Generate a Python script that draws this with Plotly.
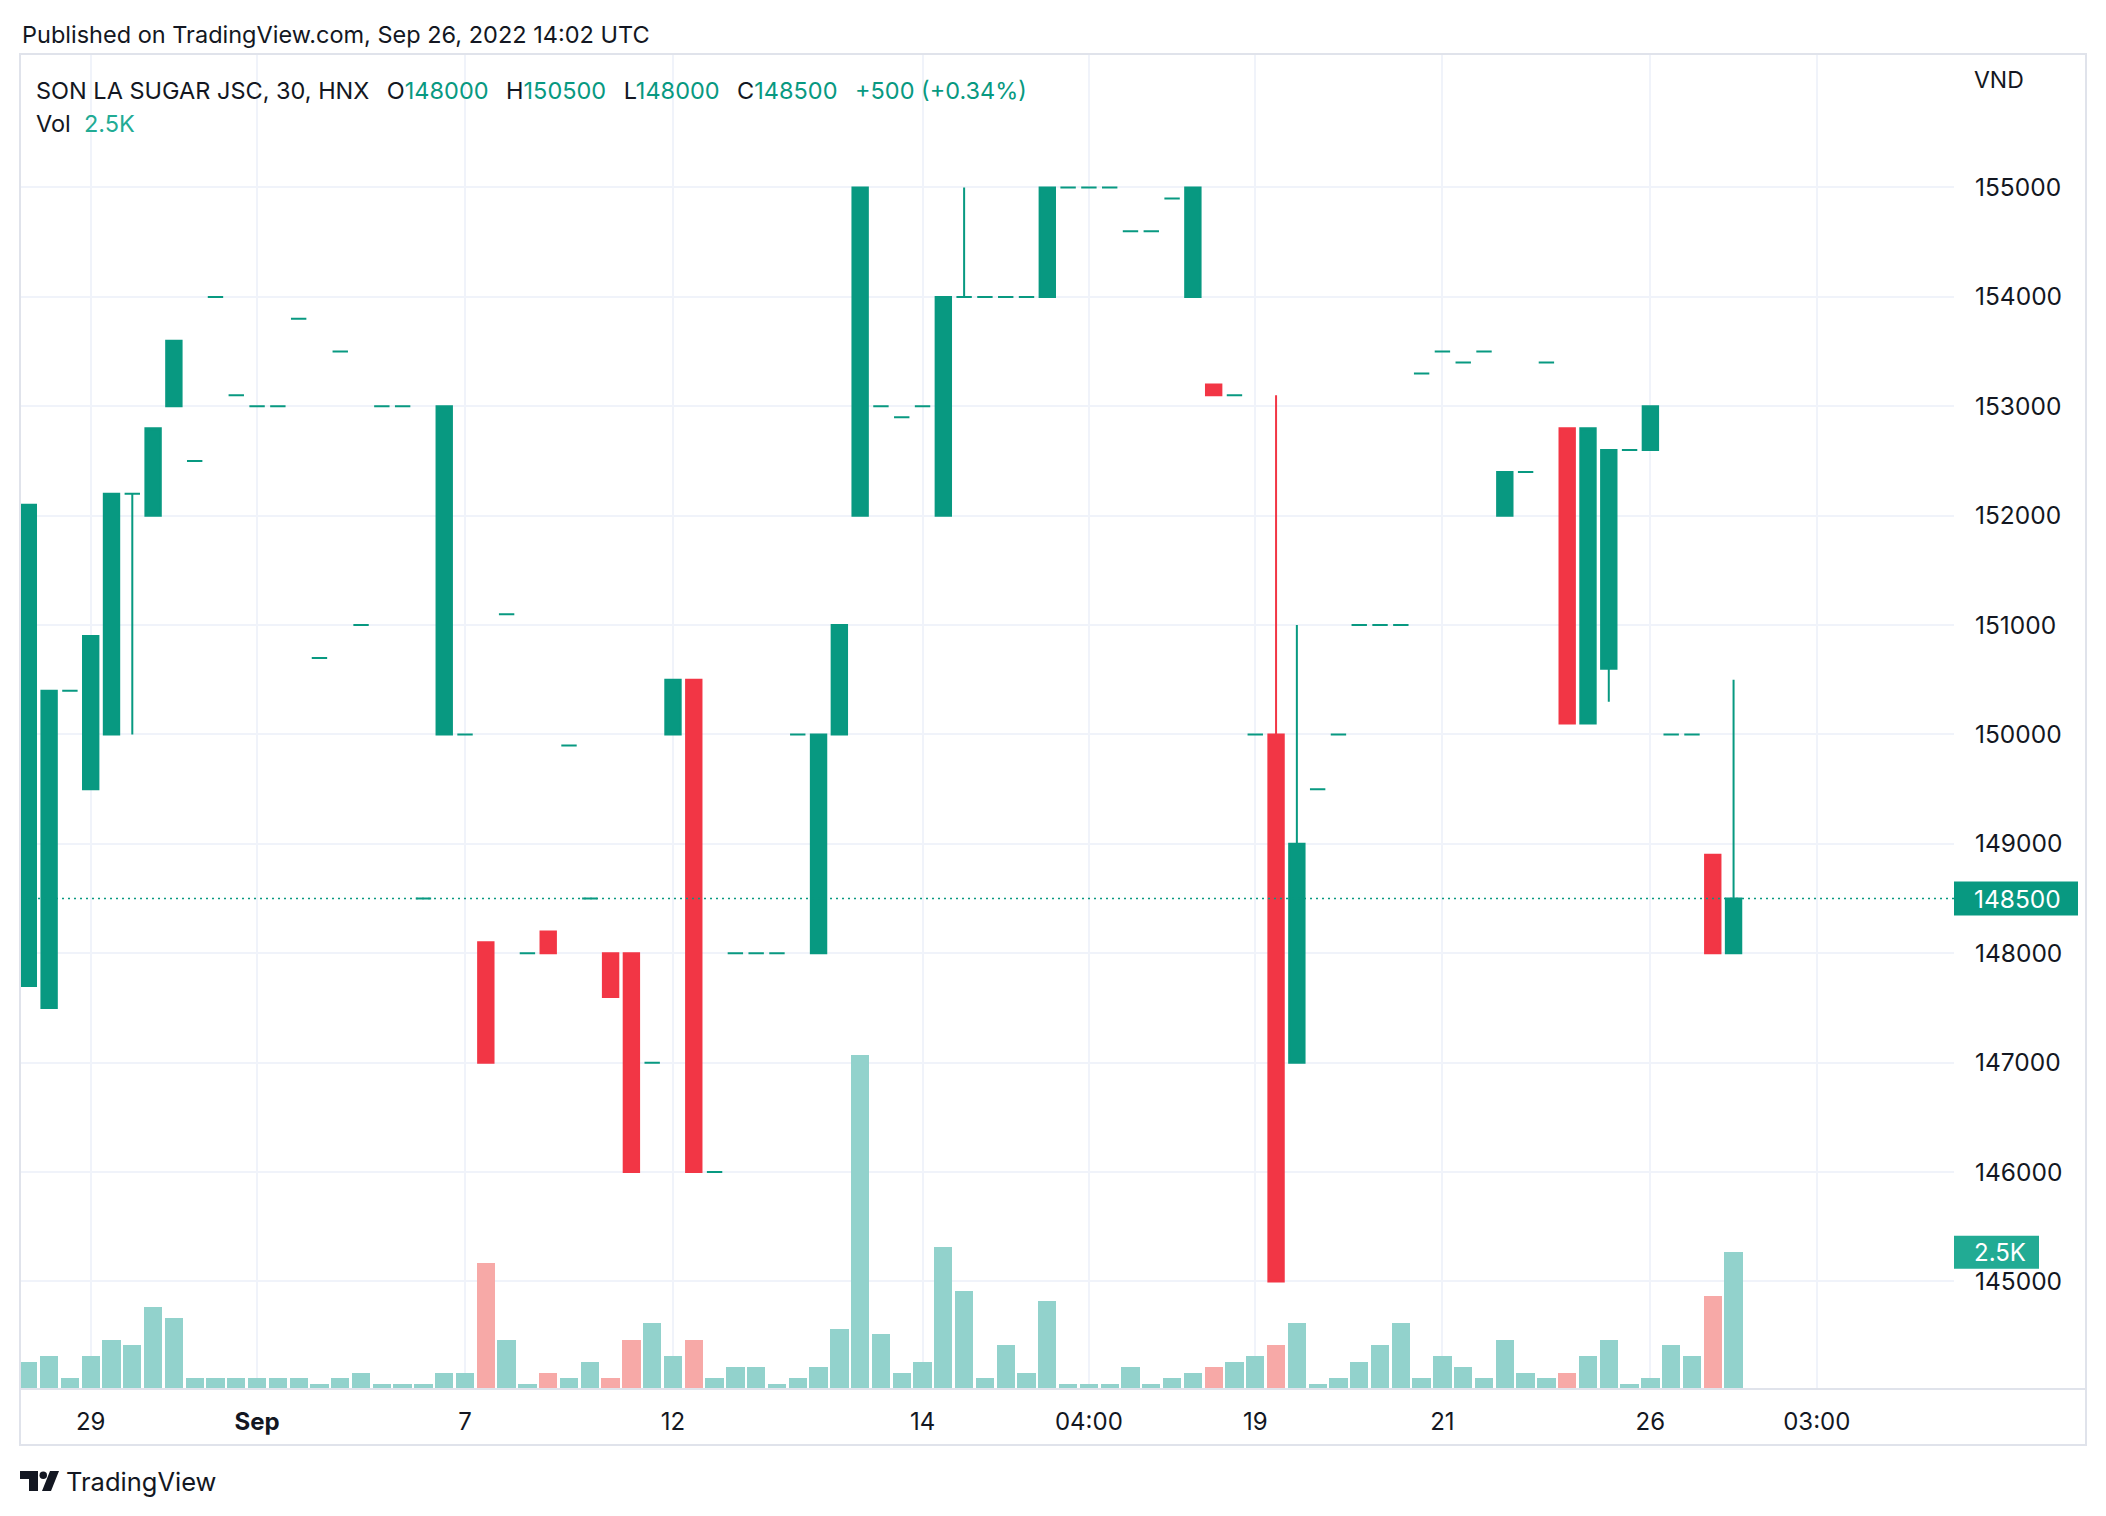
import plotly.graph_objects as go

# ---------------- data (30-min bars, SON LA SUGAR JSC, HNX) ----------------
opens = [147700, 147500, 150400, 149500, 150000, 152200, 152000, 153000, 152500, 154000,
         153100, 153000, 153000, 153800, 150700, 153500, 151000, 153000, 153000, 148500,
         150000, 150000, 148100, 151100, 148000, 148200, 149900, 148500, 148000, 148000,
         147000, 150000, 150500, 146000, 148000, 148000, 148000, 150000, 148000, 150000,
         152000, 153000, 152900, 153000, 152000, 154000, 154000, 154000, 154000, 154000,
         155000, 155000, 155000, 154600, 154600, 154900, 154000, 153200, 153100, 150000,
         150000, 147000, 149500, 150000, 151000, 151000, 151000, 153300, 153500, 153400,
         153500, 152000, 152400, 153400, 152800, 150100, 150600, 152600, 152600, 150000,
         150000, 148900, 148000]
highs = [152100, 150400, 150400, 150900, 152200, 152200, 152800, 153600, 152500, 154000,
         153100, 153000, 153000, 153800, 150700, 153500, 151000, 153000, 153000, 148500,
         153000, 150000, 148100, 151100, 148000, 148200, 149900, 148500, 148000, 148000,
         147000, 150500, 150500, 146000, 148000, 148000, 148000, 150000, 150000, 151000,
         155000, 153000, 152900, 153000, 154000, 155000, 154000, 154000, 154000, 155000,
         155000, 155000, 155000, 154600, 154600, 154900, 155000, 153200, 153100, 150000,
         153100, 151000, 149500, 150000, 151000, 151000, 151000, 153300, 153500, 153400,
         153500, 152400, 152400, 153400, 152800, 152800, 152600, 152600, 153000, 150000,
         150000, 148900, 150500]
lows = [147700, 147500, 150400, 149500, 150000, 150000, 152000, 153000, 152500, 154000,
        153100, 153000, 153000, 153800, 150700, 153500, 151000, 153000, 153000, 148500,
        150000, 150000, 147000, 151100, 148000, 148000, 149900, 148500, 147600, 146000,
        147000, 150000, 146000, 146000, 148000, 148000, 148000, 150000, 148000, 150000,
        152000, 153000, 152900, 153000, 152000, 154000, 154000, 154000, 154000, 154000,
        155000, 155000, 155000, 154600, 154600, 154900, 154000, 153100, 153100, 150000,
        145000, 147000, 149500, 150000, 151000, 151000, 151000, 153300, 153500, 153400,
        153500, 152000, 152400, 153400, 150100, 150100, 150300, 152600, 152600, 150000,
        150000, 148000, 148000]
closes = [152100, 150400, 150400, 150900, 152200, 152200, 152800, 153600, 152500, 154000,
          153100, 153000, 153000, 153800, 150700, 153500, 151000, 153000, 153000, 148500,
          153000, 150000, 147000, 151100, 148000, 148000, 149900, 148500, 147600, 146000,
          147000, 150500, 146000, 146000, 148000, 148000, 148000, 150000, 150000, 151000,
          155000, 153000, 152900, 153000, 154000, 154000, 154000, 154000, 154000, 155000,
          155000, 155000, 155000, 154600, 154600, 154900, 155000, 153100, 153100, 150000,
          145000, 149000, 149500, 150000, 151000, 151000, 151000, 153300, 153500, 153400,
          153500, 152400, 152400, 153400, 150100, 152800, 152600, 152600, 153000, 150000,
          150000, 148000, 148500]
volumes = [500, 600, 200, 600, 900, 800, 1500, 1300, 200, 200,
           200, 200, 200, 200, 100, 200, 300, 100, 100, 100,
           300, 300, 2300, 900, 100, 300, 200, 500, 200, 900,
           1200, 600, 900, 200, 400, 400, 100, 200, 400, 1100,
           6100, 1000, 300, 500, 2600, 1800, 200, 800, 300, 1600,
           100, 100, 100, 400, 100, 200, 300, 400, 500, 600,
           800, 1200, 100, 200, 500, 800, 1200, 200, 600, 400,
           200, 900, 300, 200, 300, 600, 900, 100, 200, 800,
           600, 1700, 2500]

tick_pos = [3, 11, 21, 31, 43, 51, 59, 68, 78, 86]
tick_labels = ["29", "<b>Sep</b>", "7", "12", "14", "04:00", "19", "21", "26", "03:00"]
price_ticks = [145000, 146000, 147000, 148000, 149000, 150000, 151000, 152000, 153000, 154000, 155000]
last_price = 148500
last_volume = 2500

# ---------------- styling ----------------
UP = "#089981"
DOWN = "#F23645"
VOL_UP = "#92D2CC"
VOL_DOWN = "#F7A9A7"
TEXT = "#131722"
GRID = "#F0F3FA"
FONT = "Inter"

W, H = 2106, 1516
PL, PR, PT, PB = 20, 1954, 55, 1389  # plot area in pixels


def px_x(p):
    return (p - PL) / (PR - PL)


def px_y(p):
    return (PB - p) / (PB - PT)


idx = list(range(len(opens)))
is_up = [c >= o for o, c in zip(opens, closes)]

fig = go.Figure()

# volume histogram (base axis)
fig.add_trace(go.Bar(
    x=idx, y=volumes,
    marker=dict(color=[VOL_UP if u else VOL_DOWN for u in is_up], line=dict(width=0)),
    width=0.88, yaxis="y", hoverinfo="skip", showlegend=False))


def candles(flag, color):
    sel = [i for i in idx if is_up[i] == flag]
    style = dict(line=dict(color=color, width=2), fillcolor=color)
    return go.Candlestick(
        x=sel,
        open=[opens[i] for i in sel], high=[highs[i] for i in sel],
        low=[lows[i] for i in sel], close=[closes[i] for i in sel],
        increasing=style, decreasing=style, whiskerwidth=0,
        yaxis="y2", hoverinfo="skip", showlegend=False)


fig.add_trace(candles(True, UP))
fig.add_trace(candles(False, DOWN))

# last price dotted line
fig.add_shape(type="line", xref="paper", yref="y2", x0=0, x1=1, y0=last_price, y1=last_price,
              line=dict(color=UP, width=1.5, dash="2px,4px"), layer="above")

# price tag
fig.add_shape(type="rect", xref="paper", yref="y2", x0=1.0, x1=px_x(2078),
              y0=last_price - 155, y1=last_price + 155,
              fillcolor=UP, line=dict(width=0), layer="above")
fig.add_annotation(xref="paper", yref="y2", x=px_x(1972), y=last_price, text=str(last_price),
                   showarrow=False, xanchor="left", yanchor="middle",
                   font=dict(family=FONT, size=24.5, color="white"))

# volume tag
fig.add_shape(type="rect", xref="paper", yref="y", x0=1.0, x1=px_x(2039),
              y0=last_volume - 300, y1=last_volume + 300,
              fillcolor="#22AB94", line=dict(width=0), layer="above")
fig.add_annotation(xref="paper", yref="y", x=px_x(1972), y=last_volume, text="2.5K",
                   showarrow=False, xanchor="left", yanchor="middle",
                   font=dict(family=FONT, size=24, color="white"))

# frame
fig.add_shape(type="rect", xref="paper", yref="paper", x0=0, x1=px_x(2086),
              y0=px_y(1445), y1=px_y(54), line=dict(color="#E0E3EB", width=2), layer="above")
fig.add_shape(type="line", xref="paper", yref="paper", x0=0, x1=px_x(2086),
              y0=0, y1=0, line=dict(color="#E0E3EB", width=2), layer="above")

# texts
fig.add_annotation(xref="paper", yref="paper", x=0, y=px_y(35), xanchor="left", yanchor="middle",
                   text="Published on TradingView.com, Sep 26, 2022 14:02 UTC", showarrow=False,
                   font=dict(family=FONT, size=23.5, color=TEXT))
g = lambda s: f"<span style='color:{UP}'>{s}</span>"
sp = "\u00a0\u00a0"
gap = "\u00a0\u00a0\u2009"
legend = ("SON LA SUGAR JSC, 30, HNX" + gap + "O" + g(opens[-1]) + gap + "H" + g(highs[-1]) + gap +
          "L" + g(lows[-1]) + gap + "C" + g(closes[-1]) + gap +
          g(f"+{closes[-1]-opens[-1]} (+{(closes[-1]-opens[-1])/opens[-1]*100:.2f}%)"))
fig.add_annotation(xref="paper", yref="paper", x=px_x(34), y=px_y(90), xanchor="left", yanchor="middle",
                   text=legend, showarrow=False, font=dict(family=FONT, size=23.5, color=TEXT))
fig.add_annotation(xref="paper", yref="paper", x=px_x(34), y=px_y(124), xanchor="left", yanchor="middle",
                   text="Vol" + sp + "<span style='color:#22AB94'>2.5K</span>", showarrow=False,
                   font=dict(family=FONT, size=23.5, color=TEXT))
fig.add_annotation(xref="paper", yref="paper", x=px_x(1972), y=px_y(80), xanchor="left", yanchor="middle",
                   text="VND", showarrow=False, font=dict(family=FONT, size=23, color=TEXT))
fig.add_annotation(xref="paper", yref="paper", x=px_x(64), y=px_y(1481), xanchor="left", yanchor="middle",
                   text="TradingView", showarrow=False, font=dict(family=FONT, size=25.5, color=TEXT))

# TradingView logo (simple shapes)
fig.add_shape(type="path", xref="paper", yref="paper",
              path=(f"M {px_x(20)} {px_y(1471)} L {px_x(38)} {px_y(1471)} L {px_x(38)} {px_y(1491)} "
                    f"L {px_x(29)} {px_y(1491)} L {px_x(29)} {px_y(1479)} L {px_x(20)} {px_y(1479)} Z"),
              fillcolor=TEXT, line=dict(width=0))
fig.add_shape(type="circle", xref="paper", yref="paper", x0=px_x(39.5), x1=px_x(47),
              y0=px_y(1479), y1=px_y(1471.5), fillcolor=TEXT, line=dict(width=0))
fig.add_shape(type="path", xref="paper", yref="paper",
              path=(f"M {px_x(50)} {px_y(1471)} L {px_x(59)} {px_y(1471)} L {px_x(51)} {px_y(1491)} "
                    f"L {px_x(42)} {px_y(1491)} Z"),
              fillcolor=TEXT, line=dict(width=0))

fig.update_layout(
    width=W, height=H,
    margin=dict(l=PL, r=W - PR, t=PT, b=H - PB, pad=0),
    paper_bgcolor="white", plot_bgcolor="white",
    showlegend=False, boxgap=0.26, boxgroupgap=0,
    bargap=0,
    xaxis=dict(range=[-0.40, 92.6], tickmode="array", tickvals=tick_pos, ticktext=tick_labels,
               showgrid=True, gridcolor=GRID, gridwidth=1.5, zeroline=False, showline=False,
               ticks="", ticklabelstandoff=16, rangeslider=dict(visible=False),
               tickfont=dict(family=FONT, size=24, color=TEXT)),
    yaxis=dict(range=[0, 24390], visible=False, showgrid=False, zeroline=False, fixedrange=True),
    yaxis2=dict(range=[144017, 156211], overlaying="y", side="right", tickmode="array",
                tickvals=price_ticks, ticktext=[str(v) for v in price_ticks],
                showgrid=True, gridcolor=GRID, gridwidth=1.5, zeroline=False, showline=False,
                ticks="", ticklabelstandoff=20,
                tickfont=dict(family=FONT, size=24.5, color=TEXT)),
)

fig.write_html("out.html", config={"displayModeBar": False})
